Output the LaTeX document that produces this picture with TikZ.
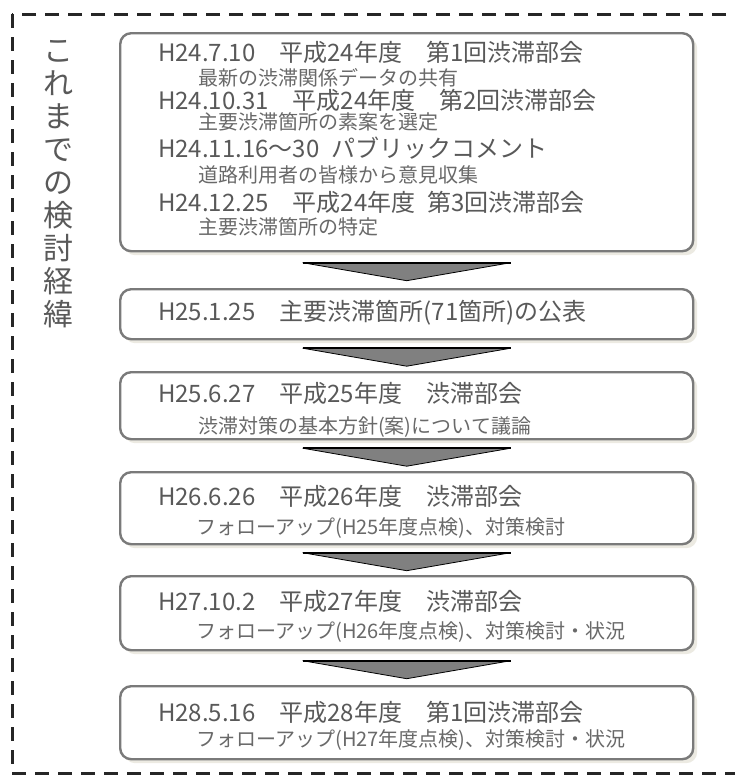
\documentclass[tikz,border=0pt]{standalone}
\usepackage{fontspec}
\setmainfont{Noto Sans CJK JP}
\usetikzlibrary{calc,shadows}
\definecolor{txtgray}{RGB}{89,89,89}
\definecolor{subgray}{RGB}{105,105,105}
\definecolor{framegray}{RGB}{122,122,122}
\definecolor{shadowbeige}{RGB}{236,234,226}
\definecolor{arrowgray}{RGB}{128,128,128}
\begin{document}
\begin{tikzpicture}[x=1pt,y=-1pt]
    \tikzstyle{frame}=[draw=black!85, line width=3pt, dash pattern=on 14pt off 9pt]
    \tikzstyle{box}=[draw=framegray, line width=2.4pt, rounded corners=11pt, fill=white,
                     anchor=north west, minimum width=573pt,
                     drop shadow={shadow xshift=4pt, shadow yshift=-4pt, fill=shadowbeige, opacity=1}]
    \tikzstyle{title}=[align=center, inner sep=0pt, text=txtgray, font=\fontsize{30}{33}\selectfont]
    \tikzstyle{main}=[anchor=west, inner sep=0pt, text=txtgray, font=\fontsize{24}{24}\selectfont]
    \tikzstyle{sub}=[anchor=west, inner sep=0pt, text=subgray, font=\fontsize{20}{20}\selectfont]
    \tikzstyle{chevron}=[fill=arrowgray, draw=black, line width=0.8pt]

    \useasboundingbox (0,0) rectangle (735,779);
    \draw[frame] (12,14) rectangle (760,773);

    \node[title] (ttl) at (58,184) {こ\\れ\\ま\\で\\の\\検\\討\\経\\緯};

    % boxes
    \node[box, minimum height=218pt] (b1) at (119,32)  {};
    \node[box, minimum height=50pt]  (b2) at (119,288) {};
    \node[box, minimum height=67pt]  (b3) at (119,371) {};
    \node[box, minimum height=72pt]  (b4) at (119,471) {};
    \node[box, minimum height=74pt]  (b5) at (119,575) {};
    \node[box, minimum height=73pt]  (b6) at (119,685) {};

    % arrows between the boxes
    \foreach \a/\b in {b1/b2,b2/b3,b3/b4,b4/b5,b5/b6}{
        \coordinate (m) at ($(\a.south)!0.5!(\b.north)+(0,1.5)$);
        \filldraw[chevron] ($(m)+(-104,-9)$) -- ($(m)+(104,-9)$) -- ($(m)+(0,9)$) -- cycle;
        \draw[line width=2pt] ($(m)+(-104,-9)$) -- ($(m)+(104,-9)$);
    }

    % texts
    \node[main] (t1a) at (158,52)  {H24.7.10\quad 平成24年度\quad 第1回渋滞部会};
    \node[sub]  (s1a) at (198,78)  {最新の渋滞関係データの共有};
    \node[main] (t1b) at (158,100) {H24.10.31\quad 平成24年度\quad 第2回渋滞部会};
    \node[sub]  (s1b) at (198,122) {主要渋滞箇所の素案を選定};
    \node[main] (t1c) at (158,148) {H24.11.16～30\enskip パブリックコメント};
    \node[sub]  (s1c) at (198,175) {道路利用者の皆様から意見収集};
    \node[main] (t1d) at (158,202) {H24.12.25\quad 平成24年度\enskip 第3回渋滞部会};
    \node[sub]  (s1d) at (198,227) {主要渋滞箇所の特定};

    \node[main] (t2) at (158,313) {H25.1.25\quad 主要渋滞箇所(71箇所)の公表};

    \node[main] (t3) at (158,393) {H25.6.27\quad 平成25年度\quad 渋滞部会};
    \node[sub]  (s3) at (198,427) {渋滞対策の基本方針(案)について議論};

    \node[main] (t4) at (158,496) {H26.6.26\quad 平成26年度\quad 渋滞部会};
    \node[sub]  (s4) at (196,528) {フォローアップ(H25年度点検)、対策検討};

    \node[main] (t5) at (158,601) {H27.10.2\quad 平成27年度\quad 渋滞部会};
    \node[sub]  (s5) at (196,632) {フォローアップ(H26年度点検)、対策検討・状況};

    \node[main] (t6) at (158,712) {H28.5.16\quad 平成28年度\quad 第1回渋滞部会};
    \node[sub]  (s6) at (196,740) {フォローアップ(H27年度点検)、対策検討・状況};
\end{tikzpicture}
\end{document}
